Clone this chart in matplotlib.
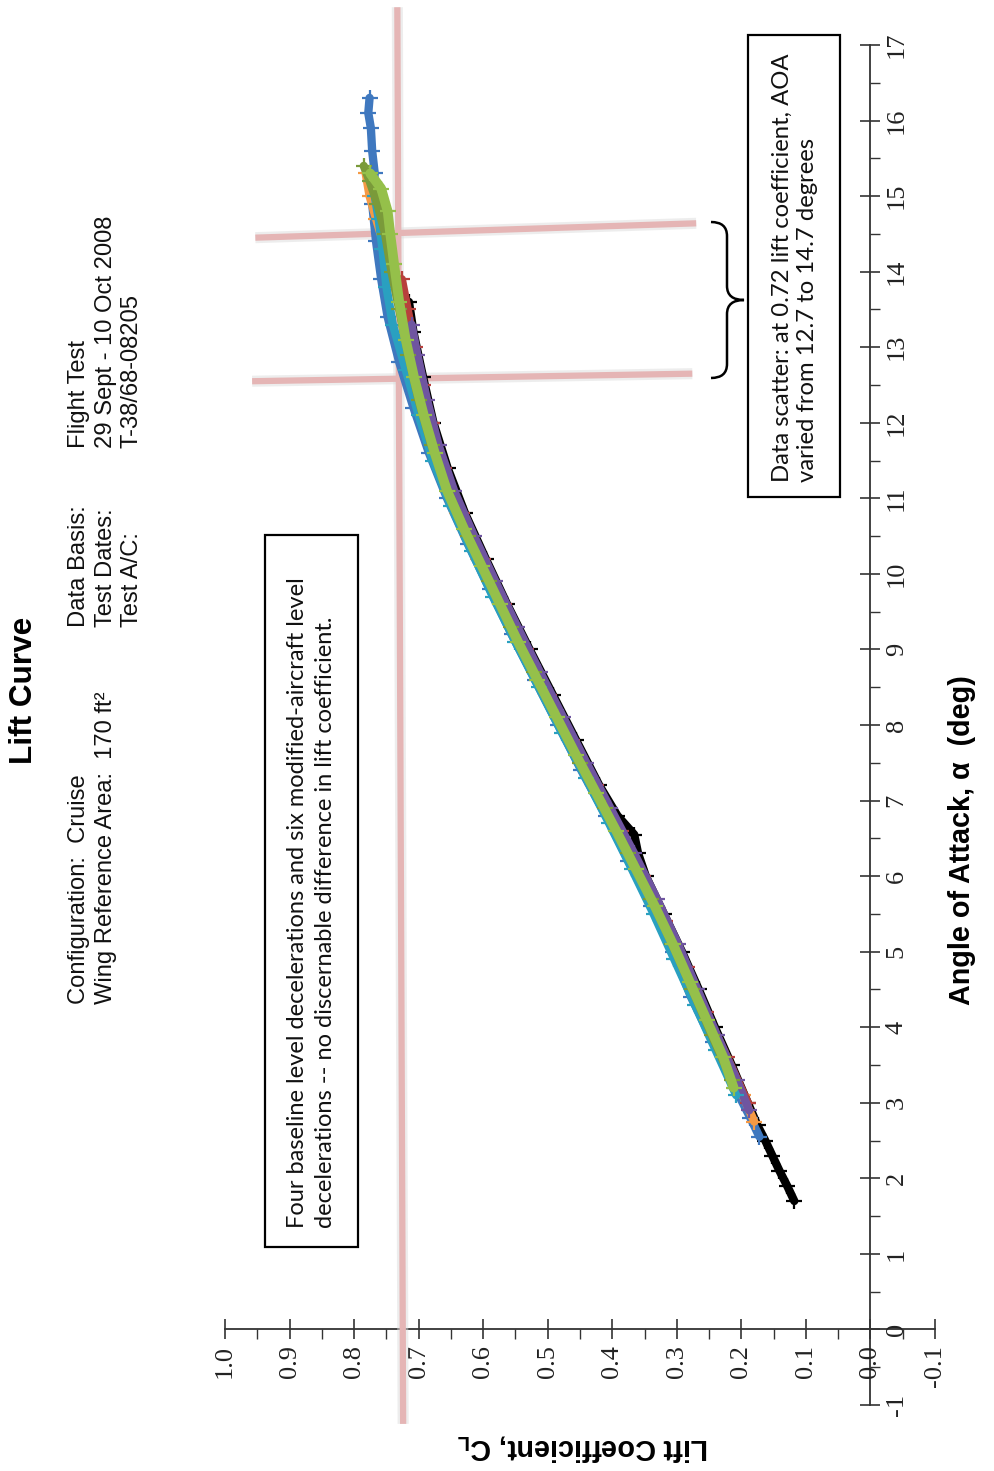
import matplotlib
matplotlib.use("Agg")
import matplotlib.pyplot as plt
from matplotlib.transforms import Affine2D
from matplotlib.patches import Rectangle, PathPatch
from matplotlib.path import Path
from matplotlib.ticker import FixedLocator

# ------------------------------------------------------------------ data
cl_ticks = [1.0, 0.9, 0.8, 0.7, 0.6, 0.5, 0.4, 0.3, 0.2, 0.1, 0.0, -0.1]
cl_tick_labels = ["1.0", "0.9", "0.8", "0.7", "0.6", "0.5", "0.4", "0.3",
                  "0.2", "0.1", "0.0", "-0.1"]
aoa_ticks = [-1, 0, 1, 2, 3, 4, 5, 6, 7, 8, 9, 10, 11, 12, 13, 14, 15, 16, 17]
aoa_tick_labels = ["-1", "0", "1", "2", "3", "4", "5", "6", "7", "8", "9",
                   "10", "11", "12", "13", "14", "15", "16", "17"]

aoa_black = [1.70, 1.90, 2.10, 2.30, 2.50, 2.70, 3.00, 3.50, 4.00, 4.50, 5.00,
             5.50, 6.00, 6.30, 6.55, 6.80, 7.20, 7.80, 8.40, 9.00, 9.60, 10.20,
             10.80, 11.40, 12.00, 12.60, 13.20, 13.60]
cl_black = [0.118, 0.129, 0.141, 0.152, 0.163, 0.175, 0.190, 0.215, 0.241,
            0.266, 0.292, 0.320, 0.348, 0.360, 0.366, 0.392, 0.420, 0.456,
            0.492, 0.528, 0.563, 0.596, 0.628, 0.655, 0.677, 0.693, 0.708, 0.715]

aoa_blue = [2.55, 2.80, 3.20, 3.80, 4.40, 5.00, 5.60, 6.20, 6.80, 7.40, 8.00,
            8.60, 9.20, 9.80, 10.40, 11.00, 11.60, 12.20, 12.80, 13.40, 13.90,
            14.40, 14.90, 15.30, 15.60, 15.90, 16.10, 16.30]
cl_blue = [0.172, 0.186, 0.210, 0.244, 0.278, 0.306, 0.340, 0.375, 0.410,
           0.448, 0.484, 0.520, 0.556, 0.590, 0.624, 0.656, 0.684, 0.708,
           0.730, 0.748, 0.758, 0.766, 0.772, 0.768, 0.772, 0.774, 0.778, 0.776]

aoa_orange = [2.75, 3.10, 3.60, 4.20, 4.80, 5.40, 6.00, 6.60, 7.20, 7.80, 8.40,
              9.00, 9.60, 10.20, 10.80, 11.40, 12.00, 12.60, 13.20, 13.80,
              14.30, 14.70, 15.00, 15.30]
cl_orange = [0.180, 0.198, 0.226, 0.259, 0.290, 0.323, 0.357, 0.392, 0.430,
             0.467, 0.503, 0.539, 0.574, 0.608, 0.640, 0.667, 0.690, 0.707,
             0.722, 0.737, 0.752, 0.766, 0.776, 0.782]

aoa_red = [3.0, 3.6, 4.2, 4.8, 5.4, 6.0, 6.6, 7.2, 7.8, 8.4, 9.0, 9.6, 10.2,
           10.8, 11.4, 12.0, 12.5, 13.0, 13.5, 13.9]
cl_red = [0.190, 0.222, 0.255, 0.285, 0.318, 0.352, 0.387, 0.425, 0.462, 0.498,
          0.533, 0.568, 0.601, 0.633, 0.660, 0.680, 0.693, 0.706, 0.717, 0.726]

aoa_purple = [2.90, 3.30, 3.90, 4.50, 5.10, 5.70, 6.30, 6.90, 7.50, 8.10, 8.70,
              9.30, 9.90, 10.50, 11.10, 11.70, 12.30, 12.90, 13.30]
cl_purple = [0.188, 0.207, 0.238, 0.268, 0.298, 0.331, 0.366, 0.403, 0.440,
             0.476, 0.512, 0.547, 0.581, 0.614, 0.645, 0.669, 0.687, 0.702, 0.711]

aoa_teal = [3.1, 3.7, 4.3, 4.9, 5.5, 6.1, 6.7, 7.3, 7.9, 8.5, 9.1, 9.7, 10.3,
            10.9, 11.5, 12.1, 12.7, 13.3, 13.8, 14.3, 14.7, 15.0]
cl_teal = [0.208, 0.240, 0.272, 0.304, 0.336, 0.370, 0.405, 0.441, 0.478, 0.514,
           0.550, 0.585, 0.618, 0.650, 0.678, 0.700, 0.720, 0.740, 0.750, 0.756,
           0.762, 0.768]

aoa_olive = [3.3, 3.9, 4.5, 5.1, 5.7, 6.3, 6.9, 7.5, 8.1, 8.7, 9.3, 9.9, 10.5,
             11.1, 11.7, 12.3, 12.9, 13.5, 14.0, 14.5, 14.9, 15.2, 15.4]
cl_olive = [0.215, 0.246, 0.276, 0.307, 0.340, 0.375, 0.412, 0.450, 0.486,
            0.522, 0.557, 0.591, 0.624, 0.655, 0.680, 0.700, 0.716, 0.730,
            0.742, 0.752, 0.764, 0.776, 0.785]

aoa_green = [3.20, 3.60, 4.10, 4.60, 5.10, 5.60, 6.10, 6.60, 7.10, 7.60, 8.10,
             8.60, 9.10, 9.60, 10.10, 10.60, 11.10, 11.60, 12.10, 12.60, 13.10,
             13.60, 14.10, 14.50, 14.80, 15.10, 15.30]
cl_green = [0.212, 0.228, 0.254, 0.280, 0.306, 0.334, 0.364, 0.394, 0.425,
            0.456, 0.486, 0.516, 0.546, 0.574, 0.602, 0.630, 0.656, 0.675,
            0.692, 0.707, 0.720, 0.730, 0.738, 0.744, 0.748, 0.758, 0.775]

# reference (hand-drawn) lines: CL = 0.72 line and AOA 12.7 / 14.7 lines
ref_cl_line_cl = [0.733, 0.724]
ref_cl_line_aoa = [17.5, -1.25]
ref_low_cl = [0.958, 0.276]
ref_low_aoa = [12.55, 12.65]
ref_high_cl = [0.953, 0.270]
ref_high_aoa = [14.45, 14.64]

title = "Lift Curve"
header_left = ["Configuration:  Cruise", "Wing Reference Area:  170 ft\u00b2"]
header_mid = ["Data Basis:", "Test Dates:", "Test A/C:"]
header_right = ["Flight Test", "29 Sept - 10 Oct 2008", "T-38/68-08205"]
note_scatter = ["Data scatter: at 0.72 lift coefficient, AOA",
                "varied from 12.7 to 14.7 degrees"]
note_baseline = ["Four baseline level decelerations and six modified-aircraft level",
                 "decelerations -- no discernable difference in lift coefficient."]
xlabel_text = "Angle of Attack, \u03b1  (deg)"
ylabel_text = "Lift Coefficient, C$_\\mathregular{L}$"

# ------------------------------------------------------------------ figure
W, H = 995, 1471
fig = plt.figure(figsize=(W / 100, H / 100), dpi=100)
fig.patch.set_facecolor("white")
pix = Affine2D().scale(1.0 / W, -1.0 / H).translate(0, 1) + fig.transFigure
renderer = fig.canvas.get_renderer()


def fit_size(s, target, family="Liberation Sans", weight="normal", base=20.0):
    t = fig.text(0, 0, s, fontsize=base, family=family, weight=weight)
    w = t.get_window_extent(renderer).width
    t.remove()
    return base * target / w


# axes: horizontal = CL (inverted), vertical = AOA (chart shown rotated)
ax_l, ax_r, ax_t, ax_b = 225, 935, 45, 1405
ax = fig.add_axes([ax_l / W, 1 - ax_b / H, (ax_r - ax_l) / W, (ax_b - ax_t) / H])
ax.set_xlim(1.0, -0.1)
ax.set_ylim(-1, 17)
ax.patch.set_alpha(0)

for s in ["left", "top"]:
    ax.spines[s].set_visible(False)
ax.spines["right"].set_position(("data", 0))
ax.spines["bottom"].set_position(("data", 0))
for s in ["right", "bottom"]:
    ax.spines[s].set_color("#333333")
    ax.spines[s].set_linewidth(1.3)
    ax.spines[s].set_zorder(1)

ax.yaxis.tick_right()
ax.xaxis.tick_bottom()
ax.xaxis.set_major_locator(FixedLocator(cl_ticks))
ax.xaxis.set_minor_locator(FixedLocator([c - 0.05 for c in cl_ticks[:-1]]))
ax.yaxis.set_major_locator(FixedLocator(aoa_ticks))
ax.yaxis.set_minor_locator(FixedLocator([a + 0.5 for a in aoa_ticks[:-1]]))
ax.set_xticklabels(cl_tick_labels, rotation=90, ha="center", va="top",
                   family="Liberation Serif", fontsize=19, color="#222222")
ax.set_yticklabels(aoa_tick_labels, rotation=90, ha="left", va="center",
                   family="Liberation Serif", fontsize=19, color="#222222")
ax.tick_params(which="major", direction="inout", length=14, width=1.2,
               color="#333333", pad=4)
ax.tick_params(which="minor", direction="out", length=7, width=1.0,
               color="#333333")

# red reference lines (with soft shadow)
for xs, ys in [(ref_cl_line_cl, ref_cl_line_aoa), (ref_low_cl, ref_low_aoa),
               (ref_high_cl, ref_high_aoa)]:
    ax.plot(xs, ys, color="#dcdcdc", lw=8, alpha=0.5, clip_on=False, zorder=2,
            solid_capstyle="butt")
    ax.plot(xs, ys, color="#e5b5b5", lw=4.5, clip_on=False, zorder=3,
            solid_capstyle="butt")

# data series
series = [(aoa_black, cl_black, "#000000"),
          (aoa_blue, cl_blue, "#3f78bf"),
          (aoa_orange, cl_orange, "#f59a45"),
          (aoa_red, cl_red, "#b8403c"),
          (aoa_purple, cl_purple, "#6f55a0"),
          (aoa_teal, cl_teal, "#2aa0c0"),
          (aoa_olive, cl_olive, "#7a9a3a"),
          (aoa_green, cl_green, "#95c04a")]
for i, (a, c, col) in enumerate(series):
    lw = 7 if col == "#95c04a" else 6
    ax.plot(c, a, color=col, lw=lw, marker="+", ms=11, mew=1.6,
            solid_joinstyle="round", solid_capstyle="round", zorder=4 + i)

# ------------------------------------------------------------------ texts
fs_title = fit_size(title, 147, weight="bold")
fig.text(24, 690, title, transform=pix, rotation=90, rotation_mode="anchor",
         ha="center", va="center", fontsize=fs_title, weight="bold",
         family="Liberation Sans")

fs_head = (fit_size(header_left[1], 315) + fit_size(header_right[1], 217)
           + fit_size(header_right[0], 114)) / 3.0
line_x = [79, 106, 132]
for i, s in enumerate(header_left):
    fig.text(line_x[i], 1004, s, transform=pix, rotation=90,
             rotation_mode="anchor", ha="left", va="center", fontsize=fs_head,
             family="Liberation Sans", color="#111111")
for i, s in enumerate(header_mid):
    fig.text(line_x[i], 627, s, transform=pix, rotation=90,
             rotation_mode="anchor", ha="left", va="center", fontsize=fs_head,
             family="Liberation Sans", color="#111111")
for i, s in enumerate(header_right):
    fig.text(line_x[i], 448, s, transform=pix, rotation=90,
             rotation_mode="anchor", ha="left", va="center", fontsize=fs_head,
             family="Liberation Sans", color="#111111")

# axis titles
fs_xl = fit_size(xlabel_text, 330, weight="bold")
fig.text(962, 840, xlabel_text, transform=pix, rotation=90,
         rotation_mode="anchor", ha="center", va="center", fontsize=fs_xl,
         weight="bold", family="Liberation Sans")
fig.text(583, 1447, ylabel_text, transform=pix, rotation=180,
         rotation_mode="anchor", ha="center", va="center", fontsize=fs_xl,
         weight="bold", family="Liberation Sans")

# note boxes
fig.patches.append(Rectangle((748, 35), 92, 462, transform=pix, fill=True,
                             facecolor="white", edgecolor="black", lw=1.6,
                             zorder=5))
fs_note = fit_size(note_scatter[0], 430, family="Lato")
fig.text(782, 482, note_scatter[0], transform=pix, rotation=90,
         rotation_mode="anchor", ha="left", va="center", fontsize=fs_note,
         family="Lato", color="#111111", zorder=6)
fig.text(808, 482, note_scatter[1], transform=pix, rotation=90,
         rotation_mode="anchor", ha="left", va="center", fontsize=fs_note,
         family="Lato", color="#111111", zorder=6)

fig.patches.append(Rectangle((265, 535), 93, 712, transform=pix, fill=True,
                             facecolor="white", edgecolor="black", lw=1.6,
                             zorder=5))
fs_note2 = fit_size(note_baseline[0], 655, family="Lato")
fig.text(297, 1228, note_baseline[0], transform=pix, rotation=90,
         rotation_mode="anchor", ha="left", va="center", fontsize=fs_note2,
         family="Lato", color="#111111", zorder=6)
fig.text(325, 1228, note_baseline[1], transform=pix, rotation=90,
         rotation_mode="anchor", ha="left", va="center", fontsize=fs_note2,
         family="Lato", color="#111111", zorder=6)

# curly brace spanning the AOA scatter range
brace = Path([(711, 222), (727, 222), (727, 236),
              (727, 286), (727, 300), (744, 300),
              (727, 300), (727, 314),
              (727, 364), (727, 378), (711, 378)],
             [Path.MOVETO, Path.CURVE3, Path.CURVE3,
              Path.LINETO, Path.CURVE3, Path.CURVE3,
              Path.CURVE3, Path.CURVE3,
              Path.LINETO, Path.CURVE3, Path.CURVE3])
fig.patches.append(PathPatch(brace, transform=pix, fill=False,
                             edgecolor="black", lw=1.8))

fig.savefig("out.png", dpi=100, facecolor="white")
